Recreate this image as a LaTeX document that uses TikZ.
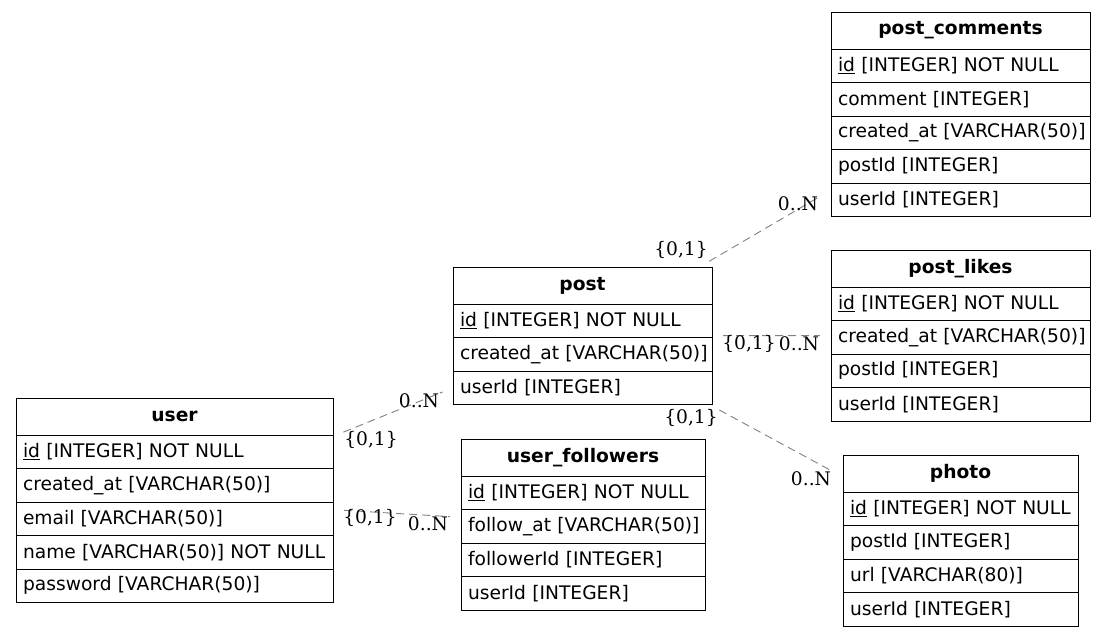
\documentclass[tikz,border=0pt]{standalone}
\usepackage{fontspec}
\setmainfont{DejaVu Sans}
\newfontfamily\cardfont{DejaVu Serif}
\usetikzlibrary{positioning,fit}

\begin{document}
\begin{tikzpicture}[x=1pt,y=-1pt]
  \tikzstyle{tblhead} = [draw, line width=1pt, anchor=north west, minimum height=37pt, inner sep=0pt, outer sep=0pt, font=\fontsize{18.67}{22}\selectfont\bfseries]
  \tikzstyle{tblrow} = [draw, line width=1pt, minimum height=33.5pt, inner xsep=7pt, inner ysep=0pt, outer sep=0pt, align=left, font=\fontsize{18.67}{22}\selectfont]
  \tikzstyle{tbl} = [inner sep=0pt]
  \tikzstyle{card} = [inner sep=0pt, font=\cardfont\fontsize{18.67}{22}\selectfont]
  \tikzstyle{rel} = [draw, gray, dash pattern=on 8pt off 5pt, line width=0.9pt, shorten <=11pt, shorten >=11pt]
  \useasboundingbox (0,0) rectangle (1107,637);

  % user
  \node[tblhead, minimum width=317pt] (user-h) at (16,398) {user};
  \foreach \r [count=\i, remember=\i as \j (initially h)] in {{\underline{id} [INTEGER] NOT NULL}, {created\_at [VARCHAR(50)]}, {email [VARCHAR(50)]}, {name [VARCHAR(50)] NOT NULL}, {password [VARCHAR(50)]}}
    \node[tblrow, text width=303pt, below=0pt of user-\j] (user-\i) {\mbox{\r}};
  \node[tbl, fit=(user-h)(user-5)] (user) {};

  % post
  \node[tblhead, minimum width=259pt] (post-h) at (453,267) {post};
  \foreach \r [count=\i, remember=\i as \j (initially h)] in {{\underline{id} [INTEGER] NOT NULL}, {created\_at [VARCHAR(50)]}, {userId [INTEGER]}}
    \node[tblrow, text width=245pt, below=0pt of post-\j] (post-\i) {\mbox{\r}};
  \node[tbl, fit=(post-h)(post-3)] (post) {};

  % user_followers
  \node[tblhead, minimum width=244pt] (followers-h) at (461,439) {user\_followers};
  \foreach \r [count=\i, remember=\i as \j (initially h)] in {{\underline{id} [INTEGER] NOT NULL}, {follow\_at [VARCHAR(50)]}, {followerId [INTEGER]}, {userId [INTEGER]}}
    \node[tblrow, text width=230pt, below=0pt of followers-\j] (followers-\i) {\mbox{\r}};
  \node[tbl, fit=(followers-h)(followers-4)] (followers) {};

  % post_comments
  \node[tblhead, minimum width=259pt] (comments-h) at (831,12) {post\_comments};
  \foreach \r [count=\i, remember=\i as \j (initially h)] in {{\underline{id} [INTEGER] NOT NULL}, {comment [INTEGER]}, {created\_at [VARCHAR(50)]}, {postId [INTEGER]}, {userId [INTEGER]}}
    \node[tblrow, text width=245pt, below=0pt of comments-\j] (comments-\i) {\mbox{\r}};
  \node[tbl, fit=(comments-h)(comments-5)] (comments) {};

  % post_likes
  \node[tblhead, minimum width=259pt] (likes-h) at (831,250) {post\_likes};
  \foreach \r [count=\i, remember=\i as \j (initially h)] in {{\underline{id} [INTEGER] NOT NULL}, {created\_at [VARCHAR(50)]}, {postId [INTEGER]}, {userId [INTEGER]}}
    \node[tblrow, text width=245pt, below=0pt of likes-\j] (likes-\i) {\mbox{\r}};
  \node[tbl, fit=(likes-h)(likes-4)] (likes) {};

  % photo
  \node[tblhead, minimum width=235pt] (photo-h) at (843,455) {photo};
  \foreach \r [count=\i, remember=\i as \j (initially h)] in {{\underline{id} [INTEGER] NOT NULL}, {postId [INTEGER]}, {url [VARCHAR(80)]}, {userId [INTEGER]}}
    \node[tblrow, text width=221pt, below=0pt of photo-\j] (photo-\i) {\mbox{\r}};
  \node[tbl, fit=(photo-h)(photo-4)] (photo) {};

  % relations
  \draw[rel] (user) -- (post);
  \draw[rel] (user) -- (followers);
  \draw[rel] (post) -- (comments);
  \draw[rel] (post) -- (likes);
  \draw[rel] (post) -- (photo);

  \node[card] (c1t) at (371,440) {\{0,1\}};
  \node[card] (c1h) at (419,401) {0..N};
  \node[card] (c2t) at (370,518) {\{0,1\}};
  \node[card] (c2h) at (428,524) {0..N};
  \node[card] (c3t) at (681,250) {\{0,1\}};
  \node[card] (c3h) at (798,204) {0..N};
  \node[card] (c4t) at (749,344) {\{0,1\}};
  \node[card] (c4h) at (799,344) {0..N};
  \node[card] (c5t) at (691,418) {\{0,1\}};
  \node[card] (c5h) at (811,479) {0..N};
\end{tikzpicture}
\end{document}
